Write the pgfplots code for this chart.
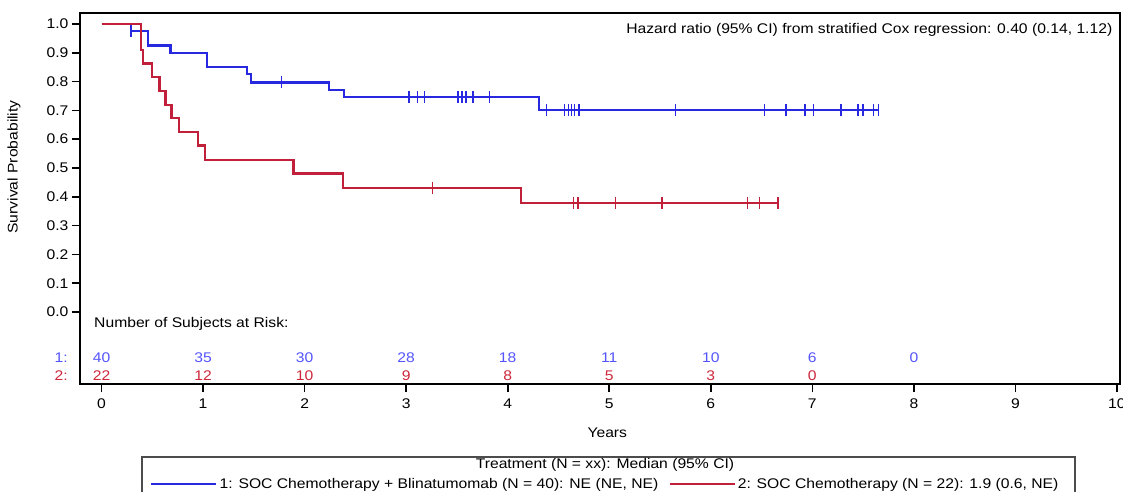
\documentclass[border=0pt]{standalone}
\usepackage{pgfplots}
\pgfplotsset{compat=1.18}
\usepackage{fontspec}
\setmainfont{Liberation Sans}[FakeStretch=1.12]

\definecolor{kmblue}{RGB}{40,40,225}
\definecolor{kmred}{RGB}{192,32,58}
\definecolor{riskblue}{RGB}{85,85,255}
\definecolor{riskred}{RGB}{205,40,60}

\begin{document}
\begin{tikzpicture}
\begin{axis}[
  scale only axis,
  width=1040pt, height=371pt,
  xmin=-0.212, xmax=10.03,
  ymin=-0.25, ymax=1.038,
  xtick={0,1,2,3,4,5,6,7,8,9,10},
  ytick={0,0.1,0.2,0.3,0.4,0.5,0.6,0.7,0.8,0.9,1.0},
  yticklabel style={/pgf/number format/.cd, fixed, fixed zerofill, precision=1, assume math mode=true},
  xticklabel style={/pgf/number format/assume math mode=true, yshift=-3pt},
  tick align=outside, xtick pos=bottom, ytick pos=left,
  major tick length=8pt,
  every tick/.style={black, line width=1.6pt},
  axis line style={line width=1.8pt},
  tick label style={font=\fontsize{14}{16}\selectfont},
  xlabel={Years},
  xlabel style={at={(axis description cs:0.507,-0.132)}, anchor=center, font=\fontsize{14}{16}\selectfont},
  ylabel={Survival Probability},
  ylabel style={at={(axis description cs:-0.0635,0.585)}, anchor=center, font=\fontsize{14}{16}\selectfont},
  legend columns=2,
  legend style={at={(axis description cs:0.0673,-0.2695)}, anchor=west, draw=none, fill=none,
    inner sep=0pt, font=\fontsize{14}{16}\selectfont,
    /tikz/every even column/.append style={column sep=8pt}},
  legend image code/.code={\draw[#1, line width=2.5pt] (0pt,0pt) -- (65pt,0pt);},
  clip=false,
]

% Kaplan-Meier, arm 1
\addplot[kmblue, line width=2.2pt, const plot mark left] coordinates {
  (0,1.0) (0.29,0.975) (0.46,0.925) (0.68,0.899) (1.04,0.851) (1.43,0.826)
  (1.47,0.797) (2.24,0.772) (2.39,0.746) (4.31,0.702) (7.65,0.702)
};
\addlegendentry{1: SOC Chemotherapy + Blinatumomab (N = 40): NE (NE, NE)}

% Kaplan-Meier, arm 2
\addplot[kmred, line width=2.2pt, const plot mark left] coordinates {
  (0,1.0) (0.385,0.909) (0.41,0.863) (0.50,0.816) (0.57,0.766) (0.63,0.719)
  (0.69,0.673) (0.76,0.625) (0.95,0.578) (1.02,0.528) (1.89,0.481)
  (2.38,0.431) (4.13,0.379) (6.66,0.379)
};
\addlegendentry{2: SOC Chemotherapy (N = 22): 1.9 (0.6, NE)}

% censored
\addplot[kmblue, only marks, mark=|, mark size=6pt, line width=1.5pt, forget plot] coordinates {
  (0.29,0.975) (1.77,0.797)
  (3.03,0.746) (3.11,0.746) (3.18,0.746) (3.51,0.746) (3.55,0.746) (3.59,0.746) (3.66,0.746) (3.82,0.746)
  (4.38,0.702) (4.56,0.702) (4.60,0.702) (4.63,0.702) (4.66,0.702) (4.70,0.702) (5.65,0.702)
  (6.53,0.702) (6.74,0.702) (6.93,0.702) (7.01,0.702) (7.28,0.702) (7.45,0.702) (7.50,0.702)
  (7.60,0.702) (7.65,0.702)
};
\addplot[kmred, only marks, mark=|, mark size=6pt, line width=1.5pt, forget plot] coordinates {
  (3.26,0.431) (4.65,0.379) (4.69,0.379) (5.06,0.379) (5.52,0.379) (6.36,0.379) (6.48,0.379) (6.66,0.379)
};

% subjects at risk
\addplot[draw=none, mark=none, forget plot, nodes near coords, point meta=explicit symbolic,
  nodes near coords style={anchor=center, text=riskblue, font=\fontsize{14}{16}\selectfont}]
  coordinates {(0,-0.158)[40] (1,-0.158)[35] (2,-0.158)[30] (3,-0.158)[28] (4,-0.158)[18]
               (5,-0.158)[11] (6,-0.158)[10] (7,-0.158)[6] (8,-0.158)[0]};
\addplot[draw=none, mark=none, forget plot, nodes near coords, point meta=explicit symbolic,
  nodes near coords style={anchor=center, text=riskred, font=\fontsize{14}{16}\selectfont}]
  coordinates {(0,-0.222)[22] (1,-0.222)[12] (2,-0.222)[10] (3,-0.222)[9] (4,-0.222)[8]
               (5,-0.222)[5] (6,-0.222)[3] (7,-0.222)[0]};

\node[anchor=east, inner sep=0pt, font=\fontsize{14}{16}\selectfont] at (axis cs:9.956,0.979)
  {Hazard ratio (95\% CI) from stratified Cox regression: 0.40 (0.14, 1.12)};
\node[anchor=west, inner sep=0pt, font=\fontsize{14}{16}\selectfont] at (axis cs:-0.074,-0.042) {Number of Subjects at Risk:};
\node[anchor=east, inner sep=0pt, text=riskblue, font=\fontsize{14}{16}\selectfont] at (axis cs:-0.33,-0.158) {1:};
\node[anchor=east, inner sep=0pt, text=riskred, font=\fontsize{14}{16}\selectfont] at (axis cs:-0.33,-0.222) {2:};
\end{axis}

% legend frame and title
\draw[black!70, line width=1.5pt] (62pt,-73pt) rectangle (995pt,-130pt);
\node[font=\fontsize{14}{16}\selectfont] at (525pt,-81pt) {Treatment (N = xx): Median (95\% CI)};

\pgfresetboundingbox
\path[use as bounding box] (-80pt,-107pt) rectangle (1043pt,384pt);
\end{tikzpicture}
\end{document}
